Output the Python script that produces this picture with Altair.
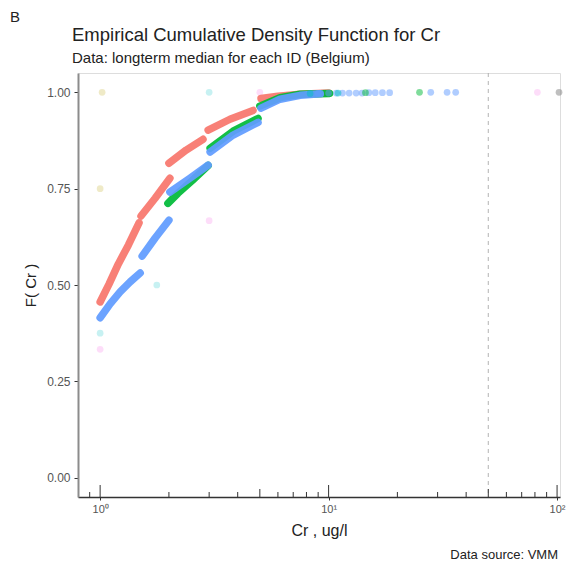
import altair as alt
import pandas as pd

# ---- data (ECDF points, x in ug/l, F = cumulative share) ----
RED_X = [1.00, 1.095, 1.20, 1.33, 1.48, 1.51, 1.74, 2.02, 2.00, 2.38, 2.82, 2.97, 3.70, 4.67, 5.06, 6.0, 7.5, 10.0]
RED_F = [0.456, 0.503, 0.554, 0.604, 0.661, 0.679, 0.725, 0.777, 0.816, 0.850, 0.878, 0.902, 0.930, 0.953, 0.984, 0.990, 0.995, 0.998]
RED_SEG = [1, 1, 1, 1, 1, 2, 2, 2, 3, 3, 3, 4, 4, 4, 5, 5, 5, 5]

GREEN_X = [1.98, 2.19, 2.53, 2.97, 3.03, 3.82, 4.91, 5.00, 6.13, 7.5, 10.1]
GREEN_F = [0.712, 0.738, 0.771, 0.810, 0.855, 0.899, 0.932, 0.964, 0.986, 0.995, 0.997]
GREEN_SEG = [3, 3, 3, 3, 4, 4, 4, 5, 5, 5, 5]

BLUE_X = [1.00, 1.106, 1.223, 1.353, 1.497, 1.527, 1.741, 2.00, 2.02, 2.47, 2.97, 3.03, 3.82, 4.91, 5.06, 6.13, 7.5, 9.2]
BLUE_F = [0.415, 0.451, 0.482, 0.508, 0.531, 0.575, 0.622, 0.668, 0.741, 0.777, 0.811, 0.845, 0.889, 0.922, 0.959, 0.982, 0.992, 0.996]
BLUE_SEG = [1, 1, 1, 1, 1, 2, 2, 2, 3, 3, 3, 4, 4, 4, 5, 5, 5, 5]

# sparse points of the small groups
FAINT_X = [1.00, 1.02, 1.00, 1.77, 3.00, 1.00, 3.00, 5.00, 82.0]
FAINT_F = [0.75, 1.00, 0.375, 0.50, 1.00, 0.333, 0.667, 1.00, 1.00]
FAINT_G = ["g2", "g2", "g4", "g4", "g4", "g6", "g6", "g6", "g6"]

# sparse points along the top (F close to 1)
TOP_X = [8.3, 9.0, 10.0, 10.8, 11.5, 12.3, 13.2, 14.0, 15.0, 16.0, 17.2, 18.5, 11.0, 14.5, 25.0, 28.0, 33.0, 36.0, 102.0]
TOP_F = [0.997, 0.997, 0.998, 0.998, 0.998, 0.998, 0.998, 0.998, 0.999, 0.999, 0.999, 0.999, 0.998, 0.999, 1.0, 1.0, 1.0, 1.0, 1.0]
TOP_G = ["g4", "g5", "g5", "g5", "g5", "g5", "g5", "g5", "g5", "g5", "g5", "g5", "g4", "g3", "g3", "g5", "g5", "g5", "NA"]

GROUPS = ["g1", "g2", "g3", "g4", "g5", "g6", "NA"]
COLORS = ["#F8766D", "#B79F00", "#00BA38", "#00BFC4", "#619CFF", "#F564E3", "#7F7F7F"]

THRESHOLD = [50]
LOG_LONG = [1, 10, 100]
LOG_MID = [5, 50]
LOG_SHORT = [0.9, 2, 3, 4, 6, 7, 8, 9, 20, 30, 40, 60, 70, 80, 90]

TITLE = "Empirical Cumulative Density Function for Cr"
SUBTITLE = "Data: longterm median for each ID (Belgium)"
PANEL = "B"
CAPTION = "Data source: VMM"

W, H = 482, 424


def seg_df(xs, fs, segs, g):
    return pd.DataFrame({"x": xs, "F": fs, "grp": g, "seg": [f"{g}-{s}" for s in segs]})


lines_df = pd.concat([
    seg_df(RED_X, RED_F, RED_SEG, "g1"),
    seg_df(GREEN_X, GREEN_F, GREEN_SEG, "g3"),
    seg_df(BLUE_X, BLUE_F, BLUE_SEG, "g5"),
], ignore_index=True)
faint_df = pd.DataFrame({"x": FAINT_X, "F": FAINT_F, "grp": FAINT_G})
top_df = pd.DataFrame({"x": TOP_X, "F": TOP_F, "grp": TOP_G})

FONT = "Liberation Sans"

xscale = alt.Scale(type="log", domain=[0.8, 103], nice=False)
yscale = alt.Scale(domain=[-0.05, 1.05], nice=False, zero=False)
cscale = alt.Scale(domain=GROUPS, range=COLORS)

xaxis = alt.Axis(
    values=[1, 10, 100],
    labelExpr="datum.value == 1 ? '10⁰' : datum.value == 10 ? '10¹' : '10²'",
    labelFontSize=11, labelColor="#555555", labelFont=FONT, labelPadding=3,
    tickColor="#333333", tickSize=3, domainColor="#333333", domainWidth=1.3,
    titleFontSize=16, titleFontWeight="normal", titleColor="#222222", titleFont=FONT,
    titlePadding=8, grid=False,
)
yaxis = alt.Axis(
    values=[0, 0.25, 0.5, 0.75, 1.0], format=".2f",
    labelFontSize=12, labelColor="#555555", labelFont=FONT, labelPadding=4,
    tickColor="#333333", tickSize=4, domainColor="#8c8c8c", domainWidth=2,
    titleFontSize=15, titleFontWeight="normal", titleColor="#222222", titleFont=FONT,
    titlePadding=8, grid=False,
)

X = alt.X("x:Q", scale=xscale, axis=xaxis, title="Cr , ug/l")
Y = alt.Y("F:Q", scale=yscale, axis=yaxis, title="F( Cr )")
C = alt.Color("grp:N", scale=cscale, legend=None)

vline = alt.Chart(pd.DataFrame({"x": THRESHOLD})).mark_rule(
    color="#aaaaaa", strokeDash=[4, 4], strokeWidth=0.9
).encode(x=X)

faint = alt.Chart(faint_df).mark_circle(size=45, opacity=0.22).encode(x=X, y=Y, color=C)


def line_layer(g):
    return alt.Chart(lines_df).transform_filter(alt.datum.grp == g).mark_line(
        strokeWidth=7.5, strokeCap="round", strokeJoin="round", opacity=0.93
    ).encode(x=X, y=Y, color=C, detail="seg:N")


top = alt.Chart(top_df).mark_circle(size=45, opacity=0.5).encode(x=X, y=Y, color=C)


def ticks(vals, length):
    return alt.Chart(pd.DataFrame({"x": vals})).mark_rule(color="#333333", strokeWidth=1).encode(
        x=X, y=alt.value(H), y2=alt.value(H - length)
    )


def label(text, px, py, size, align="left"):
    return alt.Chart(pd.DataFrame({"t": [text]})).mark_text(
        font=FONT, fontSize=size, color="#222222", align=align, baseline="alphabetic"
    ).encode(text="t:N", x=alt.value(px), y=alt.value(py))


chart = alt.layer(
    vline, faint, line_layer("g1"), line_layer("g3"), line_layer("g5"), top,
    ticks(LOG_LONG, 12), ticks(LOG_MID, 8), ticks(LOG_SHORT, 5),
    label(PANEL, -68, -51, 15),
    label(TITLE, -6, -32, 18.5),
    label(SUBTITLE, -6, -10, 15),
    label(CAPTION, W - 2, 486, 13, align="right"),
).properties(
    width=W, height=H,
    padding={"left": 78, "top": 73, "right": 12, "bottom": 68},
    autosize=alt.AutoSizeParams(type="none"),
).configure_view(stroke=None).configure(background="white")

chart.save("out.html", embed_options={"renderer": "svg", "actions": False})
